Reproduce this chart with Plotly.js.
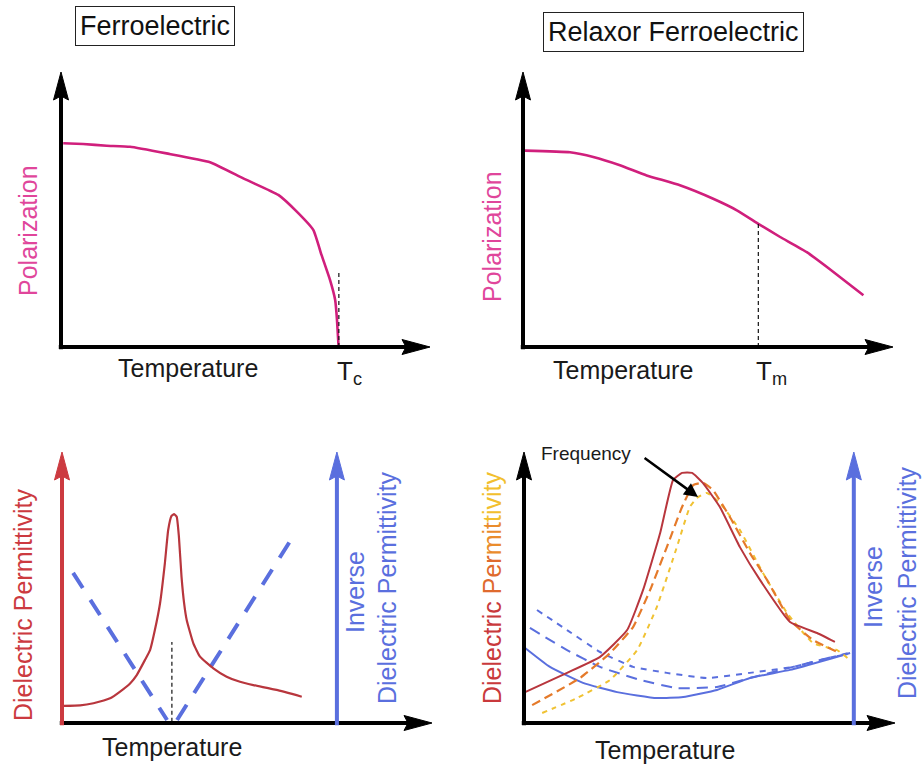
<!DOCTYPE html>
<html><head><meta charset="utf-8">
<script src="https://cdn.plot.ly/plotly-3.0.1.min.js"></script>
<style>html,body{margin:0;padding:0;background:#fff}#chart{width:922px;height:767px}</style>
</head><body><div id="chart"></div>
<script>
// ---------- Panel 1: Ferroelectric, polarization vs temperature ----------
const p1Temp = [0.6, 6.0, 12.4, 18.7, 28.6, 40.4, 49.4, 58.9, 63.9, 68.4, 70.6, 72.9, 74.3, 74.8, 75.2];
const p1Pol  = [74.1, 73.8, 73.2, 72.8, 70.4, 67.2, 61.3, 55.3, 49.2, 42.5, 33.5, 24.4, 17.1, 9.8, 0.7];
const p1Tc = 75.3, p1TcTop = 27.3;

// ---------- Panel 2: Relaxor, polarization vs temperature ----------
const p2Temp = [0.5, 12.7, 19.0, 26.2, 33.4, 42.4, 51.4, 57.8, 63.6, 69.5, 76.7, 83.9, 92.0];
const p2Pol  = [71.4, 70.8, 69.1, 66.1, 62.4, 58.8, 53.9, 49.7, 44.8, 40.0, 34.5, 27.3, 18.8];
const p2Tm = 63.6, p2TmTop = 44.8;

// ---------- Panel 3: Ferroelectric, permittivity ----------
const p3Temp = [0.4, 4.9, 8.5, 13.0, 15.7, 18.4, 20.2, 22.4, 23.8, 25.1, 26.5, 27.8, 28.7, 29.6, 30.3, 31.0, 31.6, 32.3, 33.0, 33.7, 35.5, 37.3, 40.9, 44.5, 48.1, 51.7, 58.0, 64.8];
const p3Eps  = [6.3, 6.5, 7.3, 9.1, 11.6, 14.6, 17.7, 23.2, 26.9, 34.3, 44.2, 58.9, 71.2, 76.4, 77.1, 76.1, 68.7, 54.0, 44.2, 38.0, 29.4, 24.5, 20.2, 17.1, 15.2, 14.0, 12.2, 9.7];
const p3InvLeftTemp  = [3.0, 28.4];
const p3InvLeft      = [55.4, 1.1];
const p3InvRightTemp = [31.1, 62.2];
const p3InvRight     = [1.1, 68.3];
const p3Tc = 29.7, p3TcTop = 29.9;
const p3InvAxisTemp = 74.3;

// ---------- Panel 4: Relaxor, permittivity at several frequencies ----------
const p4RedTemp = [0.3, 11.6, 20.5, 27.8, 32.1, 36.7, 40.2, 42.6, 45.3, 48.2, 52.8, 58.2, 63.6, 71.7, 79.0, 83.8];
const p4Red     = [11.4, 18.5, 24.4, 34.3, 49.1, 70.1, 89.7, 92.3, 92.3, 88.6, 79.7, 64.9, 52.8, 37.3, 33.2, 29.9];
const p4OrangeTemp = [2.2, 15.1, 23.2, 29.4, 34.0, 38.5, 42.6, 45.6, 48.2, 50.9, 55.5, 60.9, 65.5, 71.7, 77.9, 85.2];
const p4Orange     = [6.6, 16.6, 25.8, 35.4, 49.1, 64.9, 79.7, 87.8, 88.6, 86.0, 76.0, 62.7, 52.8, 38.0, 30.6, 25.8];
const p4YellowTemp = [4.9, 14.3, 23.2, 30.5, 35.8, 41.2, 44.7, 46.6, 49.3, 52.8, 58.2, 64.4, 70.9, 77.9, 84.4, 87.9];
const p4Yellow     = [3.7, 9.2, 15.9, 26.9, 42.8, 64.9, 79.7, 83.0, 84.9, 81.2, 71.2, 55.4, 40.6, 29.5, 26.9, 23.2];
const p4InvSolidTemp = [0.3, 7.0, 15.9, 25.1, 35.8, 42.9, 52.0, 60.9, 71.7, 83.3, 87.9];
const p4InvSolid     = [27.7, 20.7, 14.8, 11.4, 9.2, 9.6, 12.2, 16.6, 19.6, 24.0, 25.8];
const p4InvDashTemp = [1.6, 11.6, 20.5, 31.3, 41.2, 52.0, 60.9, 72.5, 83.3, 88.7];
const p4InvDash     = [35.1, 26.9, 20.7, 15.9, 12.9, 13.3, 16.6, 20.7, 24.4, 25.8];
const p4InvDotTemp = [3.5, 11.6, 20.5, 29.4, 38.5, 49.3, 60.9, 72.5, 83.3, 88.7];
const p4InvDot     = [41.7, 34.3, 26.2, 20.7, 18.5, 16.6, 18.5, 20.7, 24.4, 26.2];
const p4InvAxisTemp = 88.9;
const freqArrowTail = [32.1, 98.2];
const freqArrowHead = [46.9, 83.4];

// ---------- styling ----------
const W = 922, H = 767;
const FONT = 'Liberation Sans, Arial, sans-serif';
const MAG = '#d01f7c', MAGTXT = '#e0469b';
const RED = '#b8363d', REDAX = '#cc3a40';
const BLUE = '#5a6fde';
const ORANGE = '#e57a2a', YELLOW = '#f0c233';
const PAD = 6;

// panel pixel frames: origin (x0,y0) and arrow tips (x100, y100)
const frames = {
  1: {x0: 61, x100: 430, y0: 347, y100: 72},
  2: {x0: 523, x100: 893, y0: 347, y100: 72},
  3: {x0: 62, x100: 432, y0: 723, y100: 452},
  4: {x0: 524, x100: 895, y0: 723, y100: 452}
};

const layout = {
  width: W, height: H, margin: {l: 0, r: 0, t: 0, b: 0},
  paper_bgcolor: '#fff', plot_bgcolor: 'rgba(0,0,0,0)',
  showlegend: false, shapes: [], annotations: []
};
for (const k of [1, 2, 3, 4]) {
  const f = frames[k];
  const sx = (f.x100 - f.x0) / 100, sy = (f.y0 - f.y100) / 100;
  const xl = f.x0 - PAD * sx, xr = f.x100 + PAD * sx;
  const yb = f.y0 + PAD * sy, yt = f.y100 - PAD * sy;
  const xn = k === 1 ? 'xaxis' : 'xaxis' + k;
  const yn = k === 1 ? 'yaxis' : 'yaxis' + k;
  layout[xn] = {domain: [xl / W, xr / W], range: [-PAD, 100 + PAD], visible: false, fixedrange: true,
                anchor: k === 1 ? 'y' : 'y' + k};
  layout[yn] = {domain: [1 - yb / H, 1 - yt / H], range: [-PAD, 100 + PAD], visible: false, fixedrange: true,
                anchor: k === 1 ? 'x' : 'x' + k};
}

function ax(k) { return k === 1 ? ['x', 'y'] : ['x' + k, 'y' + k]; }

// axis line with arrowhead (decoration)
function axisArrow(k, dir, pos, color) {
  const [xr, yr] = ax(k);
  if (dir === 'y') {
    layout.shapes.push({type: 'line', xref: xr, yref: yr, x0: pos, x1: pos, y0: -0.8, y1: 92,
      line: {color: color, width: 4}});
    layout.shapes.push({type: 'path', xref: xr, yref: yr, xsizemode: 'pixel', ysizemode: 'pixel',
      xanchor: pos, yanchor: 100, path: 'M0,0 L-7.5,-28 L0,-24 L7.5,-28 Z',
      fillcolor: color, line: {color: color, width: 1}});
  } else {
    layout.shapes.push({type: 'line', xref: xr, yref: yr, x0: -0.6, x1: 94, y0: pos, y1: pos,
      line: {color: color, width: 4}});
    layout.shapes.push({type: 'path', xref: xr, yref: yr, xsizemode: 'pixel', ysizemode: 'pixel',
      xanchor: 100, yanchor: pos, path: 'M0,0 L-28,7.5 L-24,0 L-28,-7.5 Z',
      fillcolor: color, line: {color: color, width: 1}});
  }
}
axisArrow(1, 'y', 0, '#000'); axisArrow(1, 'x', 0, '#000');
axisArrow(2, 'y', 0, '#000'); axisArrow(2, 'x', 0, '#000');
axisArrow(3, 'x', 0, '#000'); axisArrow(3, 'y', 0, REDAX); axisArrow(3, 'y', p3InvAxisTemp, BLUE);
axisArrow(4, 'x', 0, '#000'); axisArrow(4, 'y', 0, '#000'); axisArrow(4, 'y', p4InvAxisTemp, BLUE);

function tr(k, x, y, color, width, dash, shape) {
  const [xr, yr] = ax(k);
  return {type: 'scatter', mode: 'lines', x: x, y: y, xaxis: xr, yaxis: yr, hoverinfo: 'skip',
    line: {color: color, width: width, dash: dash || 'solid', shape: shape || 'spline', smoothing: 0.4}};
}

const data = [
  tr(1, p1Temp, p1Pol, MAG, 2.6),
  tr(1, [p1Tc, p1Tc], [0, p1TcTop], '#111', 1.2, '4px,3px', 'linear'),
  tr(2, p2Temp, p2Pol, MAG, 2.6),
  tr(2, [p2Tm, p2Tm], [0, p2TmTop], '#111', 1.2, '4px,3px', 'linear'),
  tr(3, p3InvLeftTemp, p3InvLeft, BLUE, 4, '18px,14px', 'linear'),
  tr(3, p3InvRightTemp, p3InvRight, BLUE, 4, '18px,14px', 'linear'),
  tr(3, [p3Tc, p3Tc], [0.5, p3TcTop], '#111', 1.2, '4px,3px', 'linear'),
  tr(3, p3Temp, p3Eps, RED, 2.2),
  tr(4, p4InvDotTemp, p4InvDot, BLUE, 2, '6px,6px'),
  tr(4, p4InvDashTemp, p4InvDash, BLUE, 2, '11px,7px'),
  tr(4, p4InvSolidTemp, p4InvSolid, BLUE, 2),
  tr(4, p4YellowTemp, p4Yellow, YELLOW, 2, '5px,5px'),
  tr(4, p4OrangeTemp, p4Orange, ORANGE, 2.2, '9px,5px'),
  tr(4, p4RedTemp, p4Red, RED, 2)
];

function lab(text, x, y, size, color, angle, extra) {
  const a = Object.assign({text: text, x: x / W, y: 1 - y / H, xref: 'paper', yref: 'paper',
    showarrow: false, xanchor: 'center', yanchor: 'middle', textangle: angle || 0,
    font: {family: FONT, size: size, color: color}}, extra || {});
  layout.annotations.push(a);
}
const boxStyle = {bordercolor: '#222', borderwidth: 1, borderpad: 4, bgcolor: '#fff'};
lab('Ferroelectric', 155, 26, 27, '#111', 0, boxStyle);
lab('Relaxor Ferroelectric', 673, 32, 27, '#111', 0, boxStyle);
lab('Polarization', 28, 231, 25, MAGTXT, -90);
lab('Polarization', 492, 236, 25, MAGTXT, -90);
lab('Temperature', 188, 368, 25, '#1a1a1a');
lab('Temperature', 623, 370, 25, '#1a1a1a');
lab('Temperature', 172, 747, 25, '#1a1a1a');
lab('Temperature', 665, 750, 25, '#1a1a1a');
lab('T<sub>c</sub>', 349, 373, 26, '#1a1a1a');
lab('T<sub>m</sub>', 771, 373, 26, '#1a1a1a');
lab('Dielectric Permittivity', 23, 605, 25, REDAX, -90);
lab('Inverse', 355, 592, 25, BLUE, -90);
lab('Dielectric Permittivity', 387, 588, 25, BLUE, -90);
lab('<span style="color:#c9393c">Dielectric</span> <span style="color:#df6a2e">Per</span><span style="color:#ea8c2c">mit</span><span style="color:#f2bf2e">tivity</span>',
    492, 588, 25, REDAX, -90);
lab('Inverse', 873, 587, 25, BLUE, -90);
lab('Dielectric Permittivity', 907, 583, 25, BLUE, -90);
lab('Frequency', 586, 453, 19, '#1a1a1a');
layout.annotations.push({xref: 'x4', yref: 'y4', axref: 'x4', ayref: 'y4',
  x: freqArrowHead[0], y: freqArrowHead[1], ax: freqArrowTail[0], ay: freqArrowTail[1],
  text: '', showarrow: true, arrowhead: 2, arrowsize: 1.1, arrowwidth: 2.5, arrowcolor: '#000'});

Plotly.newPlot('chart', data, layout, {displayModeBar: false, staticPlot: true});
</script>
</body></html>
